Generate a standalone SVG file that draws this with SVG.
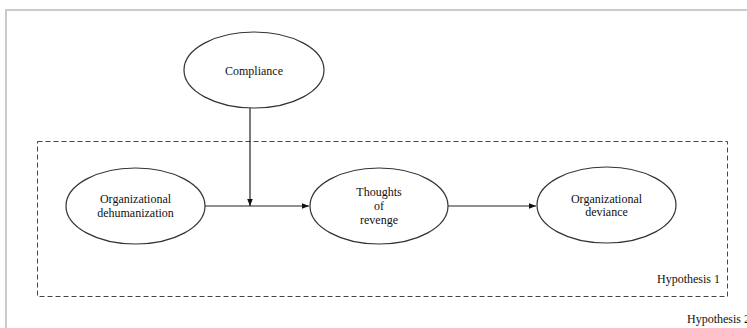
<svg xmlns="http://www.w3.org/2000/svg" width="747" height="328" viewBox="0 0 747 328">
<defs>
<style>
.node{fill:#fff;stroke:#333;stroke-width:1.2}
.t{font-family:"Liberation Serif","Times New Roman",serif;font-size:12px;fill:#111;text-anchor:middle}
.tl{font-family:"Liberation Serif","Times New Roman",serif;font-size:12px;fill:#111}
.edge{stroke:#222;stroke-width:1.2;fill:none}
</style>
<marker id="arr" viewBox="0 0 10 10" refX="10" refY="5" markerWidth="7" markerHeight="7" orient="auto" markerUnits="userSpaceOnUse">
<path d="M0,1 L10,5 L0,9 z" fill="#111"/>
</marker>
</defs>
<rect x="0" y="0" width="747" height="328" fill="#fff"/>
<path d="M6,328 V10 H747" fill="none" stroke="#bbb" stroke-width="1.5"/>
<g id="hypothesis1">
<rect x="37.5" y="141.5" width="690" height="155" fill="none" stroke="#444" stroke-width="1" stroke-dasharray="5,3"/>
<text class="tl" x="657" y="283">Hypothesis 1</text>
</g>
<g id="hypothesis2">
<text class="tl" x="687" y="323">Hypothesis 2</text>
</g>
<g id="connectors">
<line class="edge" x1="205" y1="206" x2="309" y2="206" marker-end="url(#arr)"/>
<line class="edge" x1="448" y1="206" x2="536" y2="206" marker-end="url(#arr)"/>
<line class="edge" x1="250" y1="108" x2="250" y2="206" marker-end="url(#arr)"/>
</g>
<g id="compliance">
<ellipse class="node" cx="254" cy="70" rx="70" ry="38"/>
<text class="t" x="254" y="75">Compliance</text>
</g>
<g id="org-dehumanization">
<ellipse class="node" cx="135.5" cy="206" rx="69.5" ry="38"/>
<text class="t" x="135.5" y="203">Organizational</text>
<text class="t" x="135.5" y="217">dehumanization</text>
</g>
<g id="thoughts-of-revenge">
<ellipse class="node" cx="379" cy="206" rx="69" ry="38"/>
<text class="t" x="379" y="196">Thoughts</text>
<text class="t" x="379" y="210">of</text>
<text class="t" x="379" y="224">revenge</text>
</g>
<g id="org-deviance">
<ellipse class="node" cx="606.5" cy="205" rx="69.5" ry="38"/>
<text class="t" x="606.5" y="203">Organizational</text>
<text class="t" x="606.5" y="216">deviance</text>
</g>
</svg>
